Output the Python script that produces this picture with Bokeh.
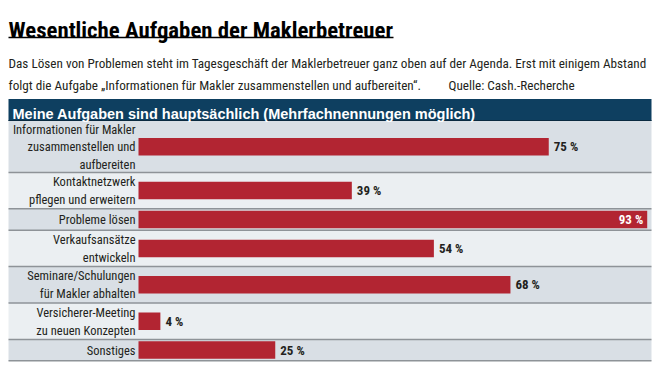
from bokeh.plotting import figure
from bokeh.models import Range1d, ColumnDataSource
from bokeh.core.properties import value
from bokeh.embed import file_html
from bokeh.resources import INLINE

# ---- data ----
title_text = "Wesentliche Aufgaben der Maklerbetreuer"
subtitle_1 = "Das Lösen von Problemen steht im Tagesgeschäft der Maklerbetreuer ganz oben auf der Agenda. Erst mit einigem Abstand"
subtitle_2 = "folgt die Aufgabe „Informationen für Makler zusammenstellen und aufbereiten“."
source_text = "Quelle: Cash.-Recherche"
header_text = "Meine Aufgaben sind hauptsächlich (Mehrfachnennungen möglich)"
categories = [
    "Informationen für Makler\nzusammenstellen und\naufbereiten",
    "Kontaktnetzwerk\npflegen und erweitern",
    "Probleme lösen",
    "Verkaufsansätze\nentwickeln",
    "Seminare/Schulungen\nfür Makler abhalten",
    "Versicherer-Meeting\nzu neuen Konzepten",
    "Sonstiges",
]
values = [75, 39, 93, 54, 68, 4, 25]
value_labels = [f"{v} %" for v in values]

# ---- layout helpers (pixel based) ----
W, H = 666, 377
X0 = 138.0      # pixel where 0 % sits
K = 5.47        # pixels per percent
def px(xp):
    return (xp - X0) / K

NARROW = "'Roboto Condensed', 'DejaVu Sans Condensed', sans-serif"
BOLDF = "'Liberation Sans', 'DejaVu Sans', sans-serif"
TXT = "#231f20"
BAR = "#b22532"
HEAD = "#0e3f60"
ROW_DARK = "#d9dfe5"
ROW_LIGHT = "#ebeff2"
SEP = "#8e9398"

p = figure(width=W, height=H, output_backend="svg", toolbar_location=None,
           x_range=Range1d(px(0), px(W)), y_range=Range1d(H, 0),
           min_border=0, outline_line_color=None)
p.axis.visible = False
p.grid.visible = False
p.background_fill_color = "white"
p.border_fill_color = "white"

# row geometry from the number of label lines
lines = [c.count("\n") + 1 for c in categories]
tops, bottoms, centers = [], [], []
y = 120.5
for n in lines:
    h = 6.4 + 15.0 * n
    tops.append(y)
    bottoms.append(y + h)
    centers.append(y + h / 2)
    y += h
row_colors = [ROW_DARK if i % 2 == 0 else ROW_LIGHT for i in range(len(categories))]

src = ColumnDataSource(dict(cat=categories, val=values, lab=value_labels,
                            top=tops, bottom=bottoms, center=centers, color=row_colors))

# row backgrounds
p.quad(left=px(8), right=px(651), top="top", bottom="bottom", fill_color="color",
       line_color=None, source=src)
p.segment(x0=px(8), x1=px(651), y0="bottom", y1="bottom", line_color=SEP,
          line_width=1.5, source=src)

# header bar
p.quad(left=px(8), right=px(651), top=98.5, bottom=120.5, fill_color=HEAD, line_color=None)
p.segment(x0=px(8), x1=px(651), y0=120, y1=120, line_color="#0a2a40", line_width=1.2)
p.text(x=px(12), y=113.5, text=[header_text], text_color="white",
       text_font=value(BOLDF), text_font_style="bold", text_font_size="14.5px",
       text_baseline="alphabetic", text_align="left")

# bars
p.hbar(y="center", left=0, right="val", height=17.5, fill_color=BAR, line_color=None, source=src)

# category labels
p.text(x=px(135), y="center", text="cat", source=src, text_color=TXT,
       text_font=value(NARROW), text_font_size="12.5px", text_align="right",
       text_baseline="middle", text_line_height=1.18)

# value labels: outside, or inside for the longest bar
out_idx = [i for i, v in enumerate(values) if v < 90]
in_idx = [i for i, v in enumerate(values) if v >= 90]
p.text(x=[values[i] + 5 / K for i in out_idx], y=[centers[i] for i in out_idx],
       text=[value_labels[i] for i in out_idx], text_color=TXT,
       text_font=value(NARROW), text_font_size="13px", text_font_style="bold",
       text_align="left", text_baseline="middle")
p.text(x=[values[i] - 4 / K for i in in_idx], y=[centers[i] for i in in_idx],
       text=[value_labels[i] for i in in_idx], text_color="white",
       text_font=value(NARROW), text_font_size="13px", text_font_style="bold",
       text_align="right", text_baseline="middle")

# title + subtitle
p.text(x=px(8), y=30, text=[title_text], text_color="black",
       text_font=value(NARROW), text_font_style="bold", text_font_size="22.8px",
       text_baseline="alphabetic")
p.segment(x0=px(8), x1=px(393), y0=37, y1=37, line_color="black", line_width=1.5)
p.text(x=px(8), y=63, text=[subtitle_1], text_color=TXT, text_font=value(NARROW),
       text_font_size="13.2px", text_baseline="alphabetic")
p.text(x=px(8), y=85, text=[subtitle_2], text_color=TXT, text_font=value(NARROW),
       text_font_size="13.2px", text_baseline="alphabetic")
p.text(x=px(448), y=85, text=[source_text], text_color=TXT, text_font=value(NARROW),
       text_font_size="13.2px", text_baseline="alphabetic")

open("out.html", "w").write(file_html(p, INLINE))
